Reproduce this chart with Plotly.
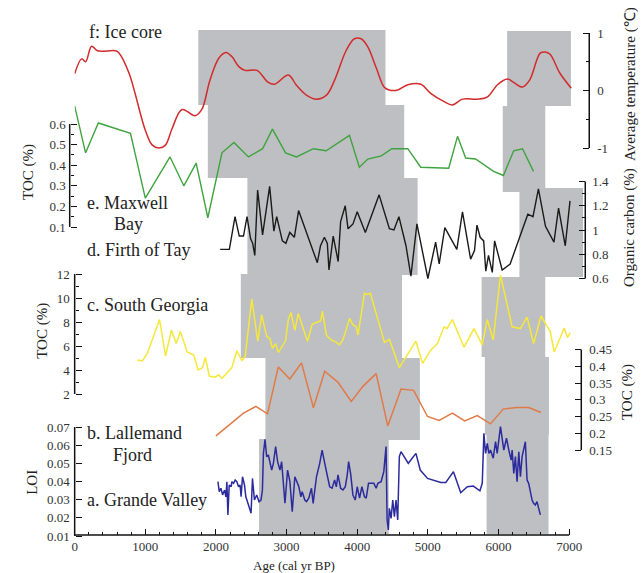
import plotly.graph_objects as go

# ---------------- data ----------------
# f: Ice core, average temperature (deg C)
ICE_AGE = [0, 99, 155, 240, 324, 580, 630, 770, 1000, 1100, 1195, 1285, 1380, 1520, 1705, 1800,
           1915, 2040, 2140, 2225, 2320, 2410, 2580, 2740, 2830, 3025, 3140, 3280, 3420, 3565,
           3680, 3845, 3960, 4055, 4150, 4270, 4380, 4450, 4575, 4715, 4900, 5040, 5225, 5350,
           5490, 5700, 5845, 5985, 6125, 6215, 6340, 6440, 6590, 6660, 6730, 6870, 7030]
ICE_TEMP = [0.29, 0.55, 0.50, 0.77, 0.69, 0.69, 0.65, 0.30, -0.69, -0.95, -1.0, -0.95, -0.66, -0.33,
            -0.44, -0.33, 0.18, 0.56, 0.66, 0.59, 0.42, 0.35, 0.35, 0.14, 0.11, 0.27, 0.09, -0.08,
            -0.15, -0.08, 0.18, 0.70, 0.90, 0.90, 0.76, 0.39, 0.06, 0.01, 0.01, 0.10, 0.11, -0.05,
            -0.19, -0.25, -0.15, -0.15, -0.11, 0.10, 0.20, 0.14, 0.06, 0.18, 0.65, 0.67, 0.63, 0.30, 0.04]

# e: Maxwell Bay TOC (%)
MB_AGE = [0, 155, 335, 790, 1000, 1350, 1545, 1720, 1885, 2085, 2255, 2460, 2660, 2800, 2985, 3140,
          3380, 3560, 3890, 4030, 4150, 4340, 4490, 4715, 4900, 5295, 5420, 5535, 5675, 5930, 6070,
          6215, 6340, 6495]
MB_TOC = [0.687, 0.46, 0.605, 0.555, 0.24, 0.44, 0.30, 0.41, 0.145, 0.46, 0.51, 0.44, 0.48, 0.575,
          0.46, 0.44, 0.48, 0.47, 0.545, 0.39, 0.43, 0.445, 0.48, 0.48, 0.39, 0.385, 0.54, 0.435,
          0.43, 0.37, 0.35, 0.47, 0.48, 0.37]

# d: Firth of Tay organic carbon (%)
FT_AGE = [2060, 2190, 2270, 2330, 2390, 2440, 2490, 2520, 2550, 2590, 2660, 2760, 2820, 2860, 2940,
          2990, 3045, 3110, 3170, 3435, 3480, 3535, 3577, 3600, 3660, 3730, 3765, 3830, 3870, 3940,
          4000, 4115, 4310, 4455, 4520, 4590, 4690, 4760, 4845, 5000, 5110, 5160, 5240, 5410, 5490,
          5605, 5660, 5695, 5740, 5790, 5820, 5858, 5912, 5945, 6052, 6165, 6415, 6488, 6565, 6665,
          6785, 6850, 6945, 7012]
FT_OC = [0.84, 0.84, 1.11, 0.95, 0.95, 1.11, 0.93, 0.89, 0.79, 1.33, 0.96, 1.36, 0.99, 1.11, 0.91,
         0.89, 0.98, 0.94, 1.16, 0.73, 0.87, 0.94, 0.89, 0.67, 0.95, 0.74, 1.07, 1.20, 1.01, 1.05,
         1.15, 0.98, 1.29, 1.01, 1.00, 1.11, 0.87, 0.62, 1.05, 0.60, 0.90, 0.72, 1.02, 0.84, 1.15,
         0.76, 0.83, 1.04, 0.94, 0.91, 0.66, 0.79, 0.65, 0.91, 0.67, 0.72, 1.13, 1.11, 1.34, 1.03,
         0.90, 1.18, 0.87, 1.24]

# c: South Georgia TOC (%)
SG_AGE = [887, 958, 1030, 1202, 1286, 1371, 1437, 1497, 1592, 1686, 1747, 1812, 1850, 1906, 1990,
          2037, 2085, 2170, 2225, 2296, 2366, 2413, 2507, 2592, 2648, 2718, 2765, 2800, 2845, 2883,
          2986, 3024, 3061, 3117, 3165, 3296, 3362, 3483, 3507, 3563, 3634, 3704, 3751, 3798, 3892,
          3939, 3986, 4010, 4103, 4150, 4187, 4385, 4455, 4596, 4831, 4925, 5042, 5136, 5230, 5268,
          5348, 5512, 5653, 5770, 5841, 5925, 6028, 6193, 6310, 6404, 6497, 6601, 6732, 6789, 6827,
          6930, 6976, 7014]
SG_TOC = [4.83, 4.75, 5.4, 8.2, 5.17, 7.33, 6.2, 7.2, 5.5, 5.25, 4.0, 4.2, 5.05, 3.5, 3.4,
          3.6, 3.3, 3.85, 4.2, 5.6, 4.8, 5.1, 9.9, 6.4, 8.6, 6.8, 6.6, 5.8, 6.2, 5.45,
          6.45, 8.2, 8.8, 7.3, 8.7, 6.4, 7.8, 8.1, 8.9, 6.9, 6.5, 6.3, 6.1, 6.5, 8.3,
          7.75, 7.6, 6.9, 10.4, 10.3, 10.4, 6.3, 6.55, 4.2, 6.4, 4.55, 5.67, 6.2, 7.6, 7.45,
          8.2, 5.9, 7.45, 6.1, 8.2, 6.5, 11.9, 7.6, 7.45, 8.4, 6.2, 8.5, 7.2, 5.5, 6.0,
          7.5, 6.7, 7.1]

# b: Lallemand Fjord TOC (%)
LF_AGE = [2000, 2390, 2565, 2730, 2883, 3046, 3211, 3380, 3540, 3728, 3916, 4080, 4268, 4432, 4620,
          4798, 4995, 5160, 5347, 5521, 5700, 5887, 6066, 6263, 6427, 6601]
LF_TOC = [0.192, 0.26, 0.28, 0.258, 0.398, 0.362, 0.41, 0.276, 0.385, 0.352, 0.295, 0.34, 0.378,
          0.222, 0.332, 0.328, 0.25, 0.238, 0.26, 0.237, 0.253, 0.228, 0.272, 0.277, 0.277, 0.262]

# a: Grande Valley LOI
GV_AGE = [2028, 2047, 2070, 2094, 2122, 2141, 2155, 2169, 2188, 2216, 2225, 2249, 2272, 2296, 2320,
          2342, 2356, 2376, 2404, 2423, 2461, 2497, 2517, 2545, 2577, 2610, 2638, 2658, 2672, 2695,
          2718, 2742, 2789, 2813, 2845, 2873, 2906, 2930, 2977, 3014, 3047, 3080, 3117, 3141, 3174,
          3202, 3221, 3258, 3282, 3314, 3352, 3376, 3423, 3469, 3503, 3540, 3578, 3610, 3644, 3680,
          3704, 3728, 3765, 3799, 3831, 3859, 3878, 3906, 3939, 3972, 4000, 4033, 4066, 4103, 4127,
          4160, 4197, 4235, 4268, 4292, 4338, 4376, 4408, 4423, 4441, 4455, 4479, 4503, 4526, 4549,
          4573, 4596, 4620, 4723, 4831, 4892, 4995, 5183, 5254, 5362, 5465, 5559, 5643, 5737, 5770,
          5793, 5817, 5841, 5864, 5887, 5925, 5958, 5981, 6028, 6075, 6113, 6146, 6179, 6193, 6216,
          6239, 6263, 6287, 6310, 6334, 6357, 6380, 6404, 6427, 6451, 6475, 6497, 6521, 6545, 6568, 6592]
GV_LOI = [0.0399, 0.0344, 0.0363, 0.0326, 0.0353, 0.0316, 0.0399, 0.0216, 0.0381, 0.0371, 0.0399,
          0.039, 0.0408, 0.0399, 0.0371, 0.0381, 0.0316, 0.0426, 0.0381, 0.0316, 0.0271, 0.0225,
          0.0417, 0.0298, 0.0326, 0.0289, 0.0298, 0.0353, 0.0555, 0.0632, 0.0537, 0.0546, 0.0463,
          0.05, 0.0592, 0.0509, 0.0463, 0.0509, 0.028, 0.0463, 0.0399, 0.0234, 0.0426, 0.0399,
          0.0371, 0.0316, 0.0344, 0.0298, 0.0289, 0.0308, 0.0363, 0.028, 0.0426, 0.05, 0.0573,
          0.05, 0.0436, 0.0371, 0.0363, 0.0408, 0.0371, 0.0436, 0.0363, 0.0353, 0.0371, 0.0436,
          0.0509, 0.0445, 0.0326, 0.0298, 0.0371, 0.0308, 0.0371, 0.0316, 0.0308, 0.039, 0.039,
          0.039, 0.0363, 0.039, 0.0399, 0.0454, 0.0592, 0.0188, 0.0133, 0.0252, 0.0197, 0.0298,
          0.0206, 0.0298, 0.0188, 0.0537, 0.0564, 0.05, 0.0555, 0.0463, 0.0417, 0.0395, 0.0395,
          0.0454, 0.0338, 0.0371, 0.0375, 0.0349, 0.039, 0.0665, 0.0555, 0.061, 0.0555, 0.0573,
          0.0528, 0.0619, 0.0555, 0.0702, 0.0573, 0.0638, 0.0573, 0.0518, 0.0573, 0.0445, 0.0537,
          0.0399, 0.0564, 0.0426, 0.0537, 0.0573, 0.0619, 0.0408, 0.039, 0.0344, 0.0298, 0.028,
          0.0271, 0.0289, 0.0243, 0.0216]

# shaded (warm) intervals per record, in cal yr BP
SHADE_F = [(1750, 4400), (6122, 7025)]
SHADE_E = [(1885, 4665), (6060, 6662)]
SHADE_D = [(2445, 4855), (6296, 7200)]
SHADE_C = [(2352, 4634), (5761, 6662)]
SHADE_B = [(2700, 4887), (5807, 6714)]
SHADE_A = [(2610, 4446), (5831, 6708)]

# tick labels
X_TICKS = [0, 1000, 2000, 3000, 4000, 5000, 6000, 7000]
X_LABELS = ["0", "1000", "2000", "3000", "4000", "5000", "6000", "7000"]
LOI_TICKS = [0.01, 0.02, 0.03, 0.04, 0.05, 0.06, 0.07]
LOI_LABELS = ["0.01", "0.02", "0.03", "0.04", "0.05", "0.06", "0.07"]
LF_TICKS = [0.15, 0.2, 0.25, 0.3, 0.35, 0.4, 0.45]
LF_LABELS = ["0.15", "0.2", "0.25", "0.3", "0.35", "0.4", "0.45"]
SG_TICKS = [2, 4, 6, 8, 10, 12]
SG_LABELS = ["2", "4", "6", "8", "10", "12"]
FT_TICKS = [0.6, 0.8, 1.0, 1.2, 1.4]
FT_LABELS = ["0.6", "0.8", "1", "1.2", "1.4"]
MB_TICKS = [0.1, 0.2, 0.3, 0.4, 0.5, 0.6]
MB_LABELS = ["0.1", "0.2", "0.3", "0.4", "0.5", "0.6"]
ICE_TICKS = [-1, 0, 1]
ICE_LABELS = ["-1", "0", "1"]

# ---------------- layout helpers ----------------
W, H = 643, 573
FONT = "Liberation Serif"
GREY = "#bdbfc2"


def fx(p):
    return p / W


def fy(p):
    return 1 - p / H


def rng(v1, p1, v2, p2):
    s = (v2 - v1) / (p2 - p1)
    return [v1 + (H - p1) * s, v1 + (0 - p1) * s]


def yax(r, side, pos, major, labels, minor=None, overlay=True, standoff=3):
    d = dict(range=r, domain=[0, 1], anchor="free", position=pos, side=side,
             tickmode="array", tickvals=major, ticktext=labels, ticks="inside",
             ticklen=6, tickwidth=1.2, tickcolor="#111", showline=False, showgrid=False,
             zeroline=False, fixedrange=True, ticklabelstandoff=standoff,
             tickfont=dict(family=FONT, size=13, color="#333"))
    if minor:
        d["minor"] = dict(tickmode="array", tickvals=minor, ticks="inside", ticklen=3.5,
                          tickwidth=1, tickcolor="#111", showgrid=False)
    if overlay:
        d["overlaying"] = "y"
    return d


fig = go.Figure()

series = [
    (GV_AGE, GV_LOI, "y", "#2b2b9e", 1.5, "linear"),
    (LF_AGE, LF_TOC, "y2", "#e07b48", 1.5, "linear"),
    (SG_AGE, SG_TOC, "y3", "#f5e83a", 1.5, "linear"),
    (FT_AGE, FT_OC, "y4", "#1a1a1a", 1.4, "linear"),
    (MB_AGE, MB_TOC, "y5", "#3fa33f", 1.4, "linear"),
    (ICE_AGE, ICE_TEMP, "y6", "#d22b2b", 1.5, "spline"),
]
for xs, ys, ya, col, w, shp in series:
    fig.add_trace(go.Scatter(x=xs, y=ys, xaxis="x", yaxis=ya, mode="lines",
                             line=dict(color=col, width=w, shape=shp),
                             hoverinfo="skip", showlegend=False))

shapes = []
# shaded intervals: (intervals, vertical pixel bands)
for ivs, bands in [
    (SHADE_F, [(30, 105), (31, 106)]),
    (SHADE_E, [(105, 178), (106, 192)]),
    (SHADE_D, [(178, 275), (188, 277)]),
    (SHADE_C, [(274, 358), (277, 357)]),
    (SHADE_B, [(358, 440), (357, 435)]),
    (SHADE_A, [(439, 534), (435, 534)]),
]:
    for (a0, a1), (p0, p1) in zip(ivs, bands):
        shapes.append(dict(type="rect", xref="x", yref="paper", x0=a0, x1=a1,
                           y0=fy(p1), y1=fy(p0), fillcolor=GREY, line=dict(width=0),
                           layer="below"))

AX_Y = 535
# axis lines
shapes.append(dict(type="line", xref="x", yref="paper", x0=X_TICKS[0], x1=X_TICKS[-1],
                   y0=fy(AX_Y), y1=fy(AX_Y), line=dict(color="#111", width=1.5)))
for ya, xpx, ticks in [("y", 72, LOI_TICKS), ("y2", 581, LF_TICKS), ("y3", 72, SG_TICKS),
                       ("y4", 585, FT_TICKS), ("y5", 67, MB_TICKS), ("y6", 589, ICE_TICKS)]:
    shapes.append(dict(type="line", xref="paper", yref=ya, x0=fx(xpx), x1=fx(xpx),
                       y0=ticks[0], y1=ticks[-1], line=dict(color="#111", width=1.5)))

x_minor = [v for v in range(200, 7000, 200) if v % 1000 != 0]

layout = dict(
    width=W, height=H, autosize=False,
    margin=dict(l=0, r=0, t=0, b=0),
    paper_bgcolor="white", plot_bgcolor="rgba(0,0,0,0)",
    showlegend=False, hovermode=False,
    xaxis=dict(domain=[fx(72), fx(583)], range=[0, 7200], anchor="free", position=fy(AX_Y),
               tickmode="array", tickvals=X_TICKS, ticktext=X_LABELS, ticks="inside",
               ticklen=6, tickwidth=1.2, tickcolor="#111", showline=False, showgrid=False,
               zeroline=False, fixedrange=True, ticklabelstandoff=2,
               tickfont=dict(family=FONT, size=13, color="#333"),
               minor=dict(tickmode="array", tickvals=x_minor, ticks="inside", ticklen=3.5,
                          tickwidth=1, tickcolor="#111", showgrid=False)),
    yaxis=yax(rng(0.07, 427, 0.01, 536), "left", fx(72), LOI_TICKS, LOI_LABELS, overlay=False,
              standoff=5),
    yaxis2=yax(rng(0.45, 349.5, 0.15, 450), "right", fx(581), LF_TICKS, LF_LABELS, standoff=7),
    yaxis3=yax(rng(12, 274, 2, 394), "left", fx(72), SG_TICKS, SG_LABELS, minor=[3, 5, 7, 9, 11],
               standoff=5),
    yaxis4=yax(rng(1.4, 181.5, 0.6, 278.5), "right", fx(585), FT_TICKS, FT_LABELS,
               minor=[0.7, 0.9, 1.1, 1.3], standoff=6),
    yaxis5=yax(rng(0.6, 124, 0.1, 227), "left", fx(67), MB_TICKS, MB_LABELS,
               minor=[0.15, 0.25, 0.35, 0.45, 0.55], standoff=4),
    yaxis6=yax(rng(1, 33, -1, 148), "right", fx(589), ICE_TICKS, ICE_LABELS, minor=[-0.5, 0.5],
               standoff=7),
    shapes=shapes,
)
fig.update_layout(**layout)


def ann(text, x, y, size=18, xanchor="left", angle=0):
    fig.add_annotation(text=text, x=fx(x), y=fy(y), xref="paper", yref="paper",
                       xanchor=xanchor, yanchor="middle", textangle=angle, showarrow=False,
                       font=dict(family=FONT, size=size, color="#222"))


# panel labels
ann("f: Ice core", 84, 32)
ann("e. Maxwell", 82, 203)
ann("Bay", 126, 224, xanchor="center")
ann("d. Firth of Tay", 82, 250)
ann("c. South Georgia", 82, 305)
ann("b. Lallemand", 82, 433)
ann("Fjord", 130, 455, xanchor="center")
ann("a. Grande Valley", 82, 500)

# axis titles
ann("TOC (%)", 25, 172, size=15, xanchor="center", angle=-90)
ann("TOC (%)", 39, 331, size=15, xanchor="center", angle=-90)
ann("LOI", 29, 482, size=15, xanchor="center", angle=-90)
ann("Average temperature (\u2103)", 631, 84, size=15, xanchor="center", angle=-90)
ann("Organic carbon (%)", 629, 228, size=15, xanchor="center", angle=-90)
ann("TOC (%)", 627, 392, size=15, xanchor="center", angle=-90)
ann("Age (cal yr BP)", 292, 565, size=13, xanchor="center")

fig.write_html("out.html")
